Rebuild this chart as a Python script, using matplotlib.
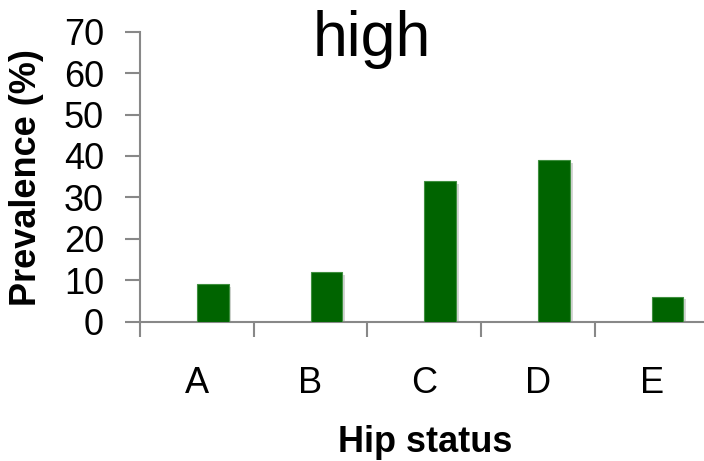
import matplotlib
matplotlib.use("Agg")
import matplotlib.pyplot as plt
import matplotlib.patheffects as pe
import numpy as np

categories = ["A", "B", "C", "D", "E"]
values = [9, 12, 34, 39, 6]
yticks = [0, 10, 20, 30, 40, 50, 60, 70]

plt.rcParams['font.family'] = ['Liberation Sans', 'DejaVu Sans']

fig = plt.figure(figsize=(7.04, 4.61), dpi=100)
ax = fig.add_axes([140/704, 1-321.5/461, (708.5-140)/704, (321.5-31.7)/461])

x = np.arange(len(categories))
bars = ax.bar(x, values, width=0.28, align='edge', color='#006400',
              edgecolor='#3f8f3f', linewidth=0.8, zorder=3)
for b in bars:
    b.set_path_effects([pe.SimplePatchShadow(offset=(2, -2), shadow_rgbFace='#888888', alpha=0.35),
                        pe.Normal()])

ax.set_xlim(-0.5, len(categories) - 0.5)
ax.set_ylim(0, 70)
ax.set_yticks(yticks)
ax.set_yticklabels([str(v) for v in yticks], fontsize=26)

# category boundaries as major ticks, labels at centers as minor
ax.set_xticks(np.arange(-0.5, len(categories) + 0.5, 1.0))
ax.set_xticklabels([])
ax.set_xticks(x, minor=True)
ax.set_xticklabels(categories, minor=True, fontsize=26)
ax.tick_params(axis='x', which='minor', length=0, pad=32)
ax.tick_params(axis='x', which='major', length=11, width=1.5, color='#888888', direction='out')
ax.tick_params(axis='y', length=11, width=1.5, color='#888888', direction='out', pad=15)

for s in ['top', 'right']:
    ax.spines[s].set_visible(False)
for s in ['left', 'bottom']:
    ax.spines[s].set_color('#888888')
    ax.spines[s].set_linewidth(1.5)

fig.text(372/704, 1-56/461, "high", ha='center', va='baseline', fontsize=45)
fig.text(27/704, 1-178/461, "Prevalence (%)", rotation=90, ha='center', va='center',
         fontsize=26, fontweight='bold')
fig.text(425/704, 1-452/461, "Hip status", ha='center', va='baseline',
         fontsize=26, fontweight='bold')

fig.savefig("out.png", dpi=100)
